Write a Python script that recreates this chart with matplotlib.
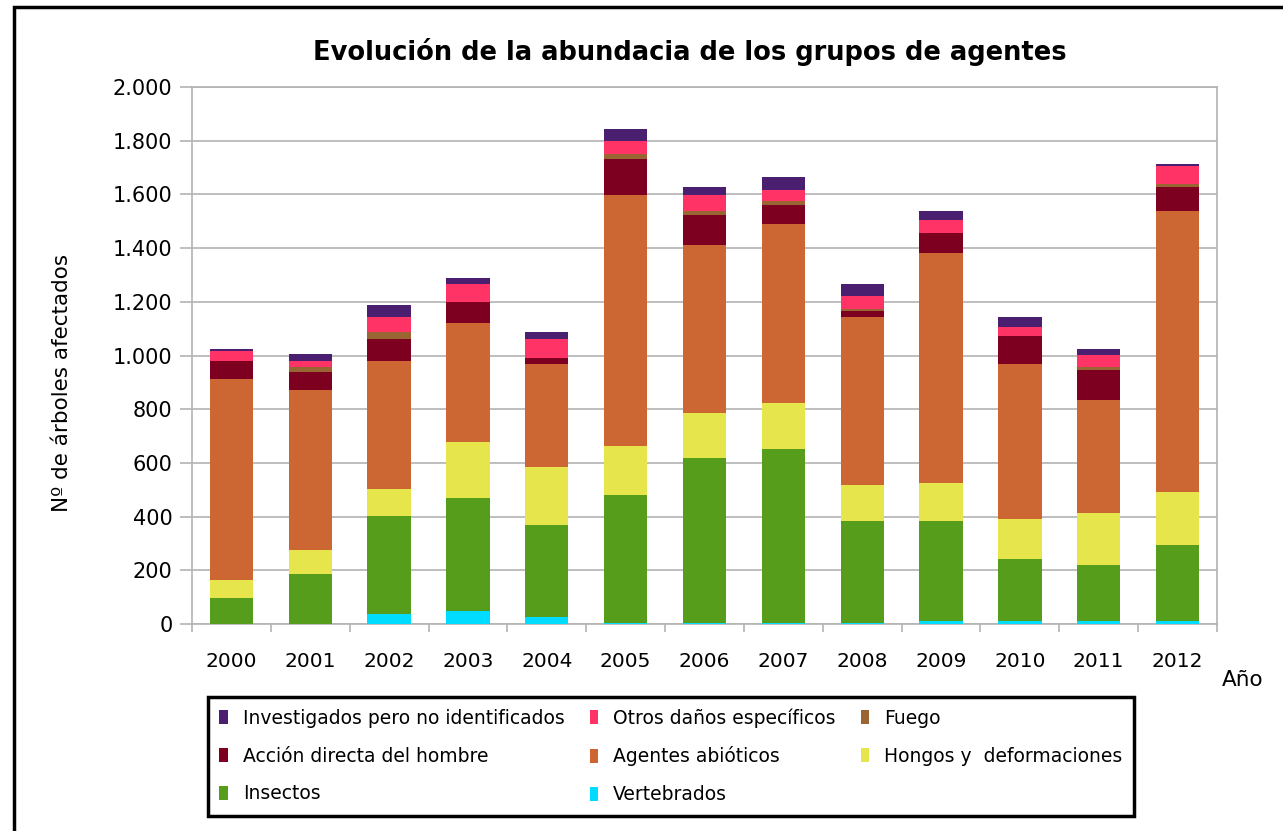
import numpy as np
import matplotlib
matplotlib.use("Agg")
import matplotlib.pyplot as plt
from matplotlib.patches import Rectangle
from matplotlib.ticker import FuncFormatter, FixedLocator

# datos (nº de árboles por año y grupo)
years = ["2000", "2001", "2002", "2003", "2004", "2005", "2006",
         "2007", "2008", "2009", "2010", "2011", "2012"]

vertebrados = [0, 0, 38, 50, 27, 5, 5, 5, 5, 12, 12, 12, 12]
insectos = [98, 187, 366, 421, 343, 477, 614, 647, 377, 370, 230, 207, 284]
hongos = [67, 90, 100, 205, 216, 182, 168, 171, 134, 145, 149, 194, 194]
abioticos = [749, 593, 477, 444, 384, 932, 626, 668, 626, 853, 579, 421, 1047]
accion = [67, 67, 82, 78, 22, 134, 112, 71, 22, 78, 104, 112, 89]
fuego = [0, 22, 23, 0, 0, 22, 15, 12, 11, 0, 0, 11, 11]
otros = [34, 22, 56, 67, 71, 48, 56, 44, 45, 45, 34, 45, 67]
investigados = [11, 23, 45, 22, 23, 45, 33, 45, 45, 37, 34, 22, 11]

series = [
    ("Vertebrados", vertebrados, "#00DCFF"),
    ("Insectos", insectos, "#579D1C"),
    ("Hongos y  deformaciones", hongos, "#E6E64C"),
    ("Agentes abióticos", abioticos, "#CC6633"),
    ("Acción directa del hombre", accion, "#7E0021"),
    ("Fuego", fuego, "#996633"),
    ("Otros daños específicos", otros, "#FF3366"),
    ("Investigados pero no identificados", investigados, "#4B1F6F"),
]

W, H = 1283, 831
fig = plt.figure(figsize=(W / 100, H / 100), dpi=100)
ax = fig.add_axes([192 / W, 1 - 624 / H, (1217 - 192) / W, (624 - 87) / H])

x = np.arange(len(years))
bottom = np.zeros(len(years))
bars = {}
for name, vals, col in series:
    vals = np.array(vals, dtype=float)
    bars[name] = ax.bar(x, vals, 0.55, bottom=bottom, color=col, zorder=3, label=name)
    bottom += vals

ax.set_xlim(-0.5, len(years) - 0.5)
ax.set_ylim(0, 2000)
ax.set_yticks(np.arange(0, 2001, 200))
ax.yaxis.set_major_formatter(FuncFormatter(lambda v, p: f"{int(v):,}".replace(",", ".")))
ax.yaxis.grid(True, color="#b3b3b3", lw=1.2, zorder=0)
ax.set_axisbelow(True)

ax.set_xticks(x)
ax.set_xticklabels(years)
ax.xaxis.set_minor_locator(FixedLocator(np.arange(-0.5, len(years), 1.0)))
ax.tick_params(axis="x", which="major", length=0, pad=20, labelsize=14.5)
ax.tick_params(axis="x", which="minor", length=6, width=1.2, color="#b3b3b3")
ax.tick_params(axis="y", length=9, width=1.2, color="#b3b3b3", pad=5, labelsize=15)

for s in ["left", "right", "bottom", "top"]:
    ax.spines[s].set_color("#b3b3b3")
    ax.spines[s].set_linewidth(1.2)

fig.text(690 / W, 1 - 52 / H, "Evolución de la abundacia de los grupos de agentes",
         ha="center", va="center", fontsize=18.5, fontweight="bold")
fig.text(62 / W, 1 - 383 / H, "Nº de árboles afectados", rotation=90,
         ha="center", va="center", fontsize=15.5)
fig.text(1243 / W, 1 - 680 / H, "Año", ha="center", va="center", fontsize=15.5)

# leyenda: orden por filas como en el original
order = ["Investigados pero no identificados", "Acción directa del hombre", "Insectos",
         "Otros daños específicos", "Agentes abióticos", "Vertebrados",
         "Fuego", "Hongos y  deformaciones"]
leg = fig.legend([bars[n] for n in order], order, ncol=3,
                 loc="upper left", bbox_to_anchor=(208 / W, 1 - 697 / H),
                 borderaxespad=0, fontsize=13.5, frameon=True, fancybox=False,
                 edgecolor="black", framealpha=1, handlelength=0.45, handleheight=0.8,
                 handletextpad=0.8, columnspacing=1.35, labelspacing=1.0,
                 borderpad=0.6)
leg.get_frame().set_linewidth(2.5)

# marco exterior
fig.add_artist(Rectangle((14 / W, -0.2), 1.2, 1.2 - 7 / H, transform=fig.transFigure,
                         fill=False, edgecolor="black", lw=2.5))

fig.savefig("out.png", dpi=100)
